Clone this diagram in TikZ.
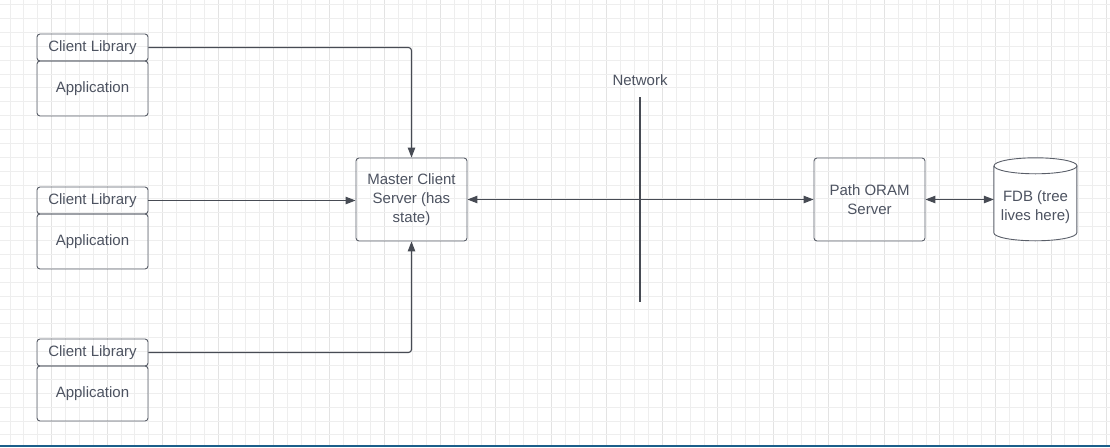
\documentclass[tikz,border=0pt]{standalone}
\usepackage{fontspec}
\setmainfont{Liberation Sans}
\usetikzlibrary{arrows.meta,calc}
\definecolor{txt}{HTML}{4D5361}
\definecolor{edge}{HTML}{5A5F69}
\definecolor{conn}{HTML}{474B54}
\definecolor{gridminor}{HTML}{EEEEEE}
\definecolor{gridmajor}{HTML}{E3E3E3}
\definecolor{bottombar}{HTML}{1B5E8A}
\begin{document}
\begin{tikzpicture}[x=1pt,y=-1pt,
  box/.style={draw=edge, line width=0.9pt, rounded corners=3pt, inner sep=0pt,
    text=txt, font=\fontsize{15}{18.7}\selectfont, align=center},
  libbox/.style={box, minimum width=111pt, minimum height=27pt},
  appbox/.style={box, minimum width=111pt, minimum height=55pt},
  srvbox/.style={box, minimum width=111pt, minimum height=83pt},
  conn/.style={draw=conn, line width=1.1pt, rounded corners=3pt},
  tip/.style={-{Triangle[length=10pt,width=7.5pt]}},
  dtip/.style={{Triangle[length=10pt,width=7.5pt]}-{Triangle[length=10pt,width=7.5pt]}},
  lbl/.style={text=txt, font=\fontsize{15}{18.7}\selectfont, inner sep=0pt}]
\useasboundingbox (0,0) rectangle (1110,447);
\fill[white] (0,0) rectangle (1110,447);
% grid
\foreach \i in {0,...,79} {
  \pgfmathsetmacro{\gx}{9.9+13.88*\i}
  \pgfmathtruncatemacro{\m}{mod(\i,4)}
  \ifnum\m=3 \draw[gridmajor, line width=0.8pt] (\gx,0) -- (\gx,447);
  \else \draw[gridminor, line width=0.8pt] (\gx,0) -- (\gx,447); \fi
}
\foreach \j in {0,...,32} {
  \pgfmathsetmacro{\gy}{4.5+13.88*\j}
  \draw[gridminor, line width=0.8pt] (0,\gy) -- (1110,\gy);
}
\fill[bottombar] (0,444.5) rectangle (1110,447);

% clients
\node[libbox] (lib1) at (92.5,47.5) {Client Library};
\node[appbox] (app1) at (92.5,88.5) {Application};
\node[libbox] (lib2) at (92.5,200.5) {Client Library};
\node[appbox] (app2) at (92.5,241.5) {Application};
\node[libbox] (lib3) at (92.5,352.5) {Client Library};
\node[appbox] (app3) at (92.5,393.5) {Application};

% servers
\node[srvbox] (master) at (411.5,199.5) {Master Client\\Server (has\\state)};
\node[srvbox] (oram) at (869.5,199.5) {Path ORAM\\Server};

% FDB cylinder
\node[minimum width=83pt, minimum height=83pt, inner sep=0pt] (fdb) at (1035.5,199.5) {};
\fill[white] (fdb.north west) ++(0,8) -- ++(0,67) arc[start angle=180,end angle=360,x radius=41.5pt,y radius=8pt] -- ++(0,-67) arc[start angle=0,end angle=180,x radius=41.5pt,y radius=8pt] -- cycle;
\draw[edge, line width=0.9pt] ($(fdb.north)+(0,8)$) ellipse [x radius=41.5pt, y radius=8pt];
\draw[edge, line width=0.9pt] (fdb.north west) ++(0,8) -- ++(0,67) arc[start angle=180,end angle=360,x radius=41.5pt,y radius=8pt] -- ++(0,-67);
\node[lbl, align=center] (fdbtext) at (1035.5,207) {FDB (tree\\lives here)};

% network
\node[lbl] (netlbl) at (640,80) {Network};
\coordinate (nettop) at (640,97);
\coordinate (netbot) at (640,302);
\draw[conn] (nettop) -- (netbot);

% connectors
\draw[conn, tip] (lib1.east) -| (master.north);
\draw[conn, tip] (lib2.east) -- (master.west |- lib2.east);
\draw[conn, tip] (lib3.east) -| (master.south);
\draw[conn, dtip] (master.east) -- (oram.west);
\draw[conn, dtip] (oram.east) -- (fdb.west);
\end{tikzpicture}
\end{document}
